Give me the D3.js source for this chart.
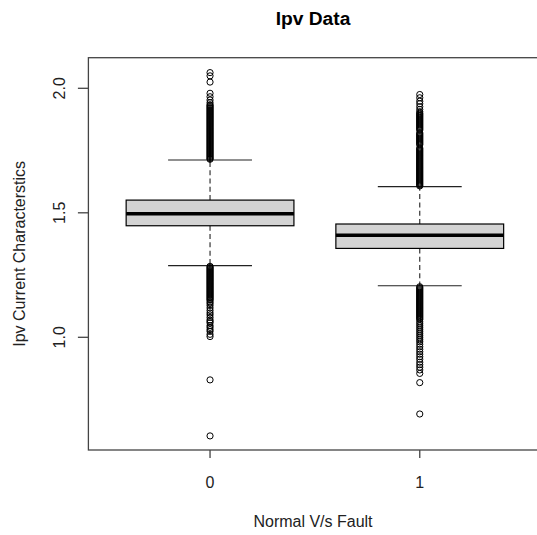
<!DOCTYPE html>
<html>
<head>
<meta charset="utf-8">
<script src="https://cdn.jsdelivr.net/npm/d3@7"></script>
<style>
  html, body { margin: 0; padding: 0; background: #fff; }
  svg { display: block; }
  text { font-family: "Liberation Sans", Arial, sans-serif; }
</style>
</head>
<body>
<svg id="chart" width="537" height="535"></svg>
<script>
// ---- data ----
const categories = ["0", "1"];
const whiskerLow  = [1.288, 1.207];
const q1          = [1.448, 1.357];
const medians     = [1.496, 1.410];
const q3          = [1.551, 1.455];
const whiskerHigh = [1.712, 1.605];
const yTicks = [1.0, 1.5, 2.0];
const yTickLabels = ["1.0", "1.5", "2.0"];

const outliers0 = [
  2.063, 2.050, 2.025, 1.980, 1.966, 1.953, 1.942,
  1.934, 1.930, 1.926, 1.922, 1.918, 1.914, 1.910, 1.906, 1.902, 1.898,
  1.894, 1.890, 1.886, 1.882, 1.878, 1.874, 1.870, 1.866, 1.862, 1.858,
  1.854, 1.850, 1.846, 1.842, 1.838, 1.834, 1.830, 1.826, 1.822, 1.818,
  1.814, 1.810, 1.806, 1.802, 1.798, 1.794, 1.790, 1.786, 1.782, 1.778,
  1.774, 1.770, 1.766, 1.762, 1.758, 1.754, 1.750, 1.746, 1.742, 1.738,
  1.734, 1.730, 1.726, 1.722, 1.718, 1.715,
  1.285, 1.281, 1.277, 1.273, 1.269, 1.265, 1.261, 1.257, 1.253, 1.249,
  1.245, 1.241, 1.237, 1.233, 1.229, 1.225, 1.221, 1.217, 1.213, 1.209,
  1.205, 1.201, 1.197, 1.193, 1.189, 1.185, 1.181, 1.177, 1.173, 1.169,
  1.165, 1.161, 1.157, 1.153, 1.149,
  1.142, 1.136, 1.128, 1.118, 1.108, 1.098, 1.090, 1.080, 1.070, 1.064,
  1.058, 1.047, 1.040, 1.031, 1.024, 1.012, 1.003, 0.829, 0.604
];

const outliers1 = [
  1.975, 1.962, 1.948, 1.938, 1.926, 1.915, 1.906,
  1.900, 1.896, 1.892, 1.888, 1.884, 1.880, 1.876, 1.872, 1.868, 1.864,
  1.860, 1.856, 1.852, 1.848, 1.844, 1.840, 1.836, 1.832, 1.821, 1.817,
  1.813, 1.809, 1.805, 1.801, 1.797, 1.793, 1.789, 1.785, 1.781, 1.777,
  1.773, 1.760, 1.756, 1.752, 1.748, 1.744, 1.740, 1.736, 1.732, 1.728,
  1.724, 1.720, 1.716, 1.712, 1.708, 1.704, 1.700, 1.696, 1.692, 1.688,
  1.684, 1.680, 1.676, 1.672, 1.668, 1.664, 1.660, 1.656, 1.652, 1.648,
  1.644, 1.640, 1.636, 1.632, 1.628, 1.624, 1.620, 1.616, 1.612, 1.608,
  1.203, 1.199, 1.195, 1.191, 1.187, 1.183, 1.179, 1.175, 1.171, 1.167,
  1.163, 1.159, 1.155, 1.151, 1.147, 1.143, 1.139, 1.135, 1.131, 1.127,
  1.123, 1.119, 1.115, 1.111, 1.107, 1.103, 1.099, 1.095, 1.091, 1.087,
  1.083, 1.079, 1.075, 1.071,
  1.062, 1.054, 1.046, 1.038, 1.030, 1.022, 1.014, 1.006, 0.998, 0.990,
  0.982, 0.972, 0.962, 0.952, 0.942, 0.932, 0.922, 0.912, 0.900, 0.890,
  0.880, 0.869, 0.855, 0.818, 0.692
];
const outliers = [outliers0, outliers1];

const title = "Ipv Data";
const xTitle = "Normal V/s Fault";
const yTitle = "Ipv Current Characterstics";

// ---- layout ----
const svg = d3.select("#chart");
const plotLeft = 88.4, plotRight = 541.4, plotTop = 57.7, plotBottom = 450;

const x = d3.scaleLinear().domain([0.42, 2.58]).range([plotLeft, plotRight]);
const y = d3.scaleLinear().domain([0.5474, 2.1229]).range([plotBottom, plotTop]);
const boxHalf = 0.4, capHalf = 0.2;
const lineCol = "#222";

// title
svg.append("text")
  .attr("x", 313).attr("y", 25)
  .attr("text-anchor", "middle")
  .attr("font-weight", "bold")
  .attr("font-size", 19.2)
  .attr("fill", "#000")
  .text(title);

// boxes
categories.forEach((c, i) => {
  const pos = i + 1;
  const g = svg.append("g");
  // dashed whiskers
  g.append("line")
    .attr("x1", x(pos)).attr("x2", x(pos))
    .attr("y1", y(q3[i])).attr("y2", y(whiskerHigh[i]))
    .attr("stroke", lineCol).attr("stroke-width", 1.1)
    .attr("stroke-dasharray", "5,3.3");
  g.append("line")
    .attr("x1", x(pos)).attr("x2", x(pos))
    .attr("y1", y(q1[i])).attr("y2", y(whiskerLow[i]))
    .attr("stroke", lineCol).attr("stroke-width", 1.1)
    .attr("stroke-dasharray", "5,3.3");
  // caps
  [whiskerHigh[i], whiskerLow[i]].forEach(v => {
    g.append("line")
      .attr("x1", x(pos - capHalf)).attr("x2", x(pos + capHalf))
      .attr("y1", y(v)).attr("y2", y(v))
      .attr("stroke", lineCol).attr("stroke-width", 1.2);
  });
  // box
  g.append("rect")
    .attr("x", x(pos - boxHalf)).attr("width", x(pos + boxHalf) - x(pos - boxHalf))
    .attr("y", y(q3[i])).attr("height", y(q1[i]) - y(q3[i]))
    .attr("fill", "#d3d3d3").attr("stroke", "#000").attr("stroke-width", 1.2);
  // median
  g.append("line")
    .attr("x1", x(pos - boxHalf)).attr("x2", x(pos + boxHalf))
    .attr("y1", y(medians[i])).attr("y2", y(medians[i]))
    .attr("stroke", "#000").attr("stroke-width", 3.6);
  // outliers
  g.selectAll("circle").data(outliers[i]).enter().append("circle")
    .attr("cx", x(pos)).attr("cy", d => y(d))
    .attr("r", 3.1)
    .attr("fill", "none").attr("stroke", "#000").attr("stroke-width", 1);
});

// frame
svg.append("rect")
  .attr("x", plotLeft).attr("y", plotTop)
  .attr("width", plotRight - plotLeft).attr("height", plotBottom - plotTop)
  .attr("fill", "none").attr("stroke", "#444").attr("stroke-width", 1.3);

// y axis
const yAxisG = svg.append("g");
yTicks.forEach((t, k) => {
  yAxisG.append("line")
    .attr("x1", plotLeft - 10.5).attr("x2", plotLeft)
    .attr("y1", y(t)).attr("y2", y(t))
    .attr("stroke", "#444").attr("stroke-width", 1.3);
  yAxisG.append("text")
    .attr("transform", `translate(65,${y(t)}) rotate(-90)`)
    .attr("text-anchor", "middle")
    .attr("font-size", 16)
    .attr("fill", "#222")
    .text(yTickLabels[k]);
});

// x axis
const xAxisG = svg.append("g");
categories.forEach((c, i) => {
  xAxisG.append("line")
    .attr("x1", x(i + 1)).attr("x2", x(i + 1))
    .attr("y1", plotBottom).attr("y2", plotBottom + 8)
    .attr("stroke", "#444").attr("stroke-width", 1.3);
  xAxisG.append("text")
    .attr("x", x(i + 1)).attr("y", 488)
    .attr("text-anchor", "middle")
    .attr("font-size", 16)
    .attr("fill", "#222")
    .text(c);
});

// axis titles
svg.append("text")
  .attr("x", 313).attr("y", 527)
  .attr("text-anchor", "middle")
  .attr("font-size", 16)
  .attr("fill", "#222")
  .text(xTitle);

svg.append("text")
  .attr("transform", `translate(25,${(plotTop + plotBottom) / 2}) rotate(-90)`)
  .attr("text-anchor", "middle")
  .attr("font-size", 16)
  .attr("fill", "#222")
  .text(yTitle);
</script>
</body>
</html>
